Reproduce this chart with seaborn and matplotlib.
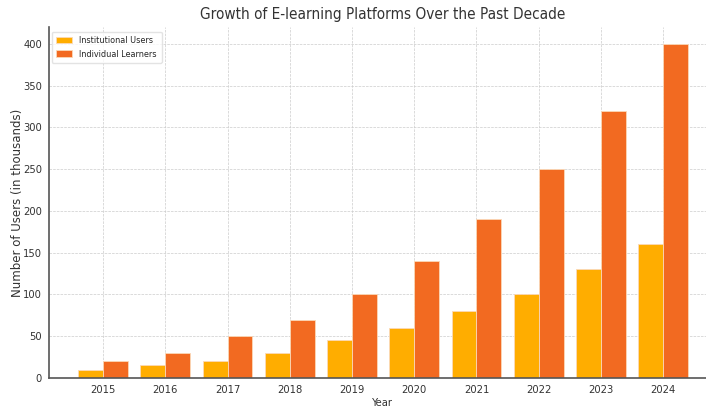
import pandas as pd
import matplotlib.pyplot as plt
import seaborn as sns

# Data (thousands of users)
years = [2015, 2016, 2017, 2018, 2019, 2020, 2021, 2022, 2023, 2024]
institutional = [10, 15, 20, 30, 45, 60, 80, 100, 130, 160]
individual = [20, 30, 50, 70, 100, 140, 190, 250, 320, 400]

df = pd.DataFrame({
    'Year': years * 2,
    'Users': institutional + individual,
    'Group': ['Institutional Users'] * len(years) + ['Individual Learners'] * len(years),
})

sns.set_style('white')
plt.rcParams['font.family'] = ['DejaVu Sans']
plt.rcParams['font.stretch'] = 'condensed'

fig = plt.figure(figsize=(7.06, 4.08), dpi=100)
ax = fig.add_axes([49 / 706, 30 / 408, 667 / 706, 351 / 408])

palette = {'Institutional Users': '#FFAD00', 'Individual Learners': '#F26A21'}
sns.barplot(data=df, x='Year', y='Users', hue='Group', palette=palette,
            width=0.8, saturation=1, edgecolor='#FBD9B8', linewidth=0.6, ax=ax)

ax.set_xlim(-0.87, 9.85)
ax.set_ylim(0, 420)
ax.set_yticks(range(0, 401, 50))

# Add gridlines
ax.grid(True, linestyle='--', linewidth=0.5, color='#cccccc')
ax.set_axisbelow(True)

for s in ['top', 'right']:
    ax.spines[s].set_visible(False)
for s in ['left', 'bottom']:
    ax.spines[s].set_color('#555555')
    ax.spines[s].set_linewidth(1.2)

ax.tick_params(axis='both', labelsize=8, colors='#333333', length=3, width=0.8, pad=2)
ax.set_xlabel('Year', fontsize=8, color='#333333', labelpad=2)
ax.set_ylabel('Number of Users (in thousands)', fontsize=8.5, color='#333333',
              fontstretch='normal')
ax.yaxis.set_label_coords(-0.037, 0.5)
ax.set_title('Growth of E-learning Platforms Over the Past Decade', fontsize=11, color='#333333')

ax.legend(loc='upper left', fontsize=6.5, frameon=True, edgecolor='#dddddd',
          handlelength=1.8, borderpad=0.5, bbox_to_anchor=(-0.003, 1.0))

plt.savefig('out.png', dpi=100)
